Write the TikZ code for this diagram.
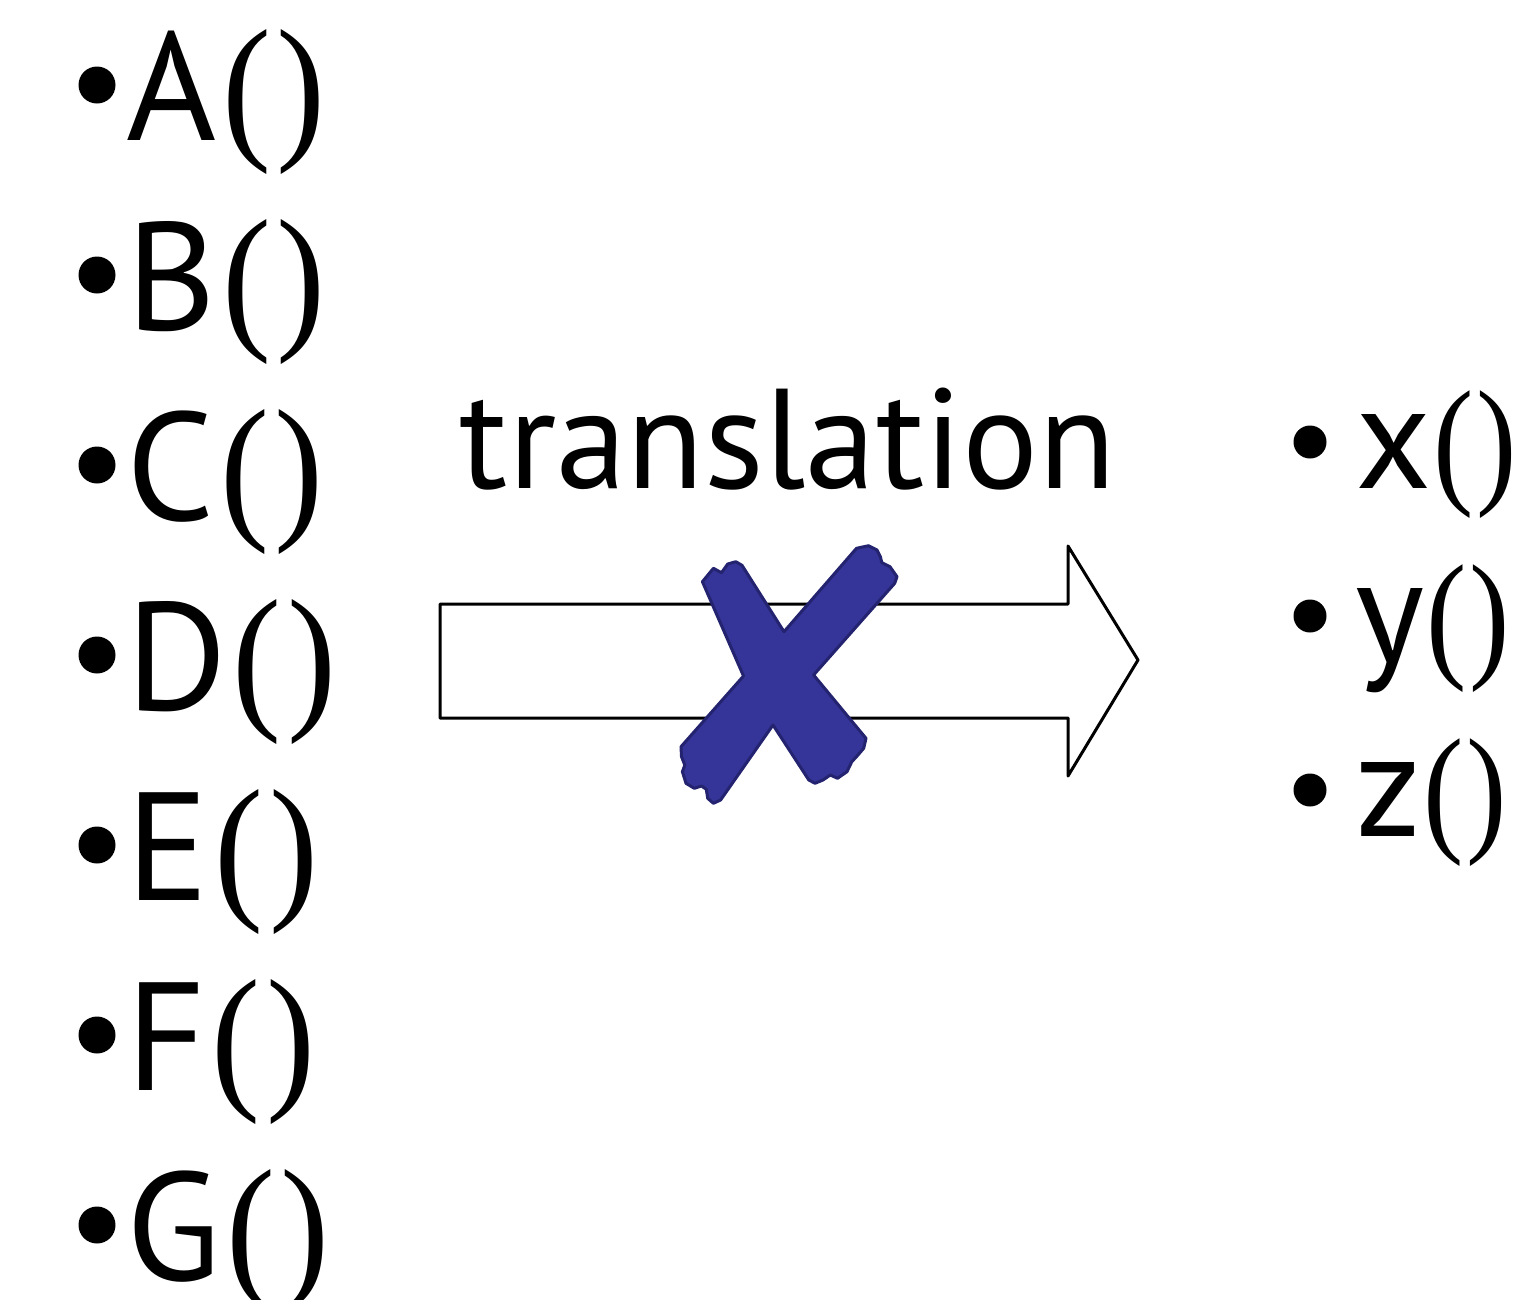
\documentclass[tikz,border=0pt]{standalone}
\usepackage{fontspec}
\usepackage{graphicx}
\setmainfont{PT Sans}
\newfontfamily\parenfont{Liberation Serif}
\definecolor{xfill}{RGB}{53,52,152}
\definecolor{xline}{RGB}{36,35,112}
% serif parentheses after each function name
\newcommand\lparens{\hspace{6pt}\scalebox{0.92}[1]{\parenfont\fontsize{160}{160}\selectfont(\hspace{6pt})}}
\newcommand\rparens{\hspace{2pt}\scalebox{0.86}[1]{\parenfont\fontsize{141}{141}\selectfont(\hspace{3pt})}}
\tikzset{
  lefttext/.style={anchor=base west, inner sep=0pt, font=\fontsize{154}{160}\selectfont},
  righttext/.style={anchor=base west, inner sep=0pt, font=\fontsize{148}{150}\selectfont},
  dot/.style={circle, fill=black, inner sep=0pt},
  bigarrow/.style={draw=black, line width=3pt, fill=white, line join=round},
  cross/.style={fill=xfill, draw=xline, line width=3pt, line join=round},
  label/.style={anchor=base, inner sep=0pt, font=\fontsize{142}{150}\selectfont}
}
\begin{document}
\begin{tikzpicture}[x=1pt, y=-1pt]
\useasboundingbox (0,0) rectangle (1513,1299);
\clip (0,0) rectangle (1513,1299);
% left column of functions
\foreach \n [count=\i from 0] in {A,B,C,D,E,F,G} {
  \node[dot, minimum size=37pt] (dot\n) at (97, 85+190*\i) {};
  \node[lefttext] (fn\n) at (126, 140+190*\i) {\n\lparens};
}
% right column of functions
\foreach \n [count=\i from 0] in {x,y,z} {
  \node[dot, minimum size=33pt] (dot\n) at (1310, 442+174*\i) {};
  \node[righttext] (fn\n) at (1355, 488+174*\i) {\n\rparens};
}
% label and block arrow
\node[label] (lbl) at (788, 488) {translation};
\draw[bigarrow] (440,604) -- (1068,604) -- (1068,546) -- (1138,660)
  -- (1068,776) -- (1068,718) -- (440,718) -- cycle;
% crossed-out mark over the arrow
\draw[cross] (702.4,581.7) -- (713.4,568.3) -- (721.5,572.7) -- (727.7,564)
  -- (735.8,561.7) -- (742,565.3) -- (784,631.7)
  -- (856.5,548.3) -- (868.5,545.7) -- (877,550) -- (880.4,556.7)
  -- (881.8,562.7) -- (890,566.7) -- (897,576.7) -- (894.7,583.3)
  -- (813.6,675)
  -- (866,738.3) -- (863.7,748.3) -- (856.5,756.7) -- (851.8,761.7)
  -- (847,771.7) -- (837.5,778.3) -- (830.3,775) -- (823,780)
  -- (815,783.3) -- (808.8,780)
  -- (773,725)
  -- (720.6,800) -- (713.4,803.3) -- (707.7,798.3) -- (706.3,789.3)
  -- (701.5,786) -- (694.3,788.3) -- (686,783.3) -- (682.4,771.7)
  -- (684.8,765) -- (681.5,756.7) -- (681,746.7)
  -- (743.5,676) -- cycle;
\end{tikzpicture}
\end{document}
